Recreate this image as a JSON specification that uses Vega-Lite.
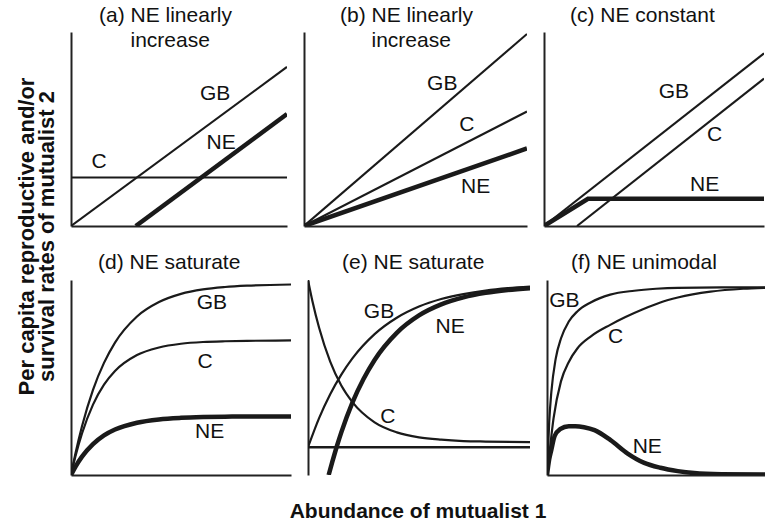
{
"$schema": "https://vega.github.io/schema/vega-lite/v6.json",
"padding": {"left": 15, "top": 5, "right": 0, "bottom": 0},
"background": "white",
"datasets": {
"curves": [
{"panel":"a","series":"GB","x":0,"y":0},{"panel":"a","series":"GB","x":1,"y":0.82},
{"panel":"a","series":"NE","x":0.30,"y":0},{"panel":"a","series":"NE","x":1,"y":0.577},
{"panel":"a","series":"C","x":0,"y":0.25},{"panel":"a","series":"C","x":1,"y":0.25},
{"panel":"b","series":"GB","x":0,"y":0},{"panel":"b","series":"GB","x":1,"y":0.99},
{"panel":"b","series":"C","x":0,"y":0},{"panel":"b","series":"C","x":1,"y":0.59},
{"panel":"b","series":"NE","x":0,"y":0},{"panel":"b","series":"NE","x":1,"y":0.40},
{"panel":"c","series":"GB","x":0,"y":0},{"panel":"c","series":"GB","x":1,"y":0.89},
{"panel":"c","series":"C","x":0.15,"y":0},{"panel":"c","series":"C","x":1,"y":0.76},
{"panel":"c","series":"NE","x":0,"y":0},{"panel":"c","series":"NE","x":0.2,"y":0.14},{"panel":"c","series":"NE","x":1,"y":0.14},
{"panel":"d","series":"GB","x":0,"y":0},{"panel":"d","series":"GB","x":0.02,"y":0.109},{"panel":"d","series":"GB","x":0.05,"y":0.25},{"panel":"d","series":"GB","x":0.1,"y":0.437},{"panel":"d","series":"GB","x":0.15,"y":0.575},{"panel":"d","series":"GB","x":0.2,"y":0.679},{"panel":"d","series":"GB","x":0.3,"y":0.813},{"panel":"d","series":"GB","x":0.4,"y":0.887},{"panel":"d","series":"GB","x":0.5,"y":0.929},{"panel":"d","series":"GB","x":0.6,"y":0.952},{"panel":"d","series":"GB","x":0.7,"y":0.964},{"panel":"d","series":"GB","x":0.8,"y":0.971},{"panel":"d","series":"GB","x":1,"y":0.977},
{"panel":"d","series":"C","x":0,"y":0},{"panel":"d","series":"C","x":0.02,"y":0.095},{"panel":"d","series":"C","x":0.05,"y":0.213},{"panel":"d","series":"C","x":0.1,"y":0.361},{"panel":"d","series":"C","x":0.15,"y":0.463},{"panel":"d","series":"C","x":0.2,"y":0.533},{"panel":"d","series":"C","x":0.3,"y":0.615},{"panel":"d","series":"C","x":0.4,"y":0.654},{"panel":"d","series":"C","x":0.5,"y":0.673},{"panel":"d","series":"C","x":0.6,"y":0.682},{"panel":"d","series":"C","x":0.7,"y":0.686},{"panel":"d","series":"C","x":0.8,"y":0.688},{"panel":"d","series":"C","x":1,"y":0.69},
{"panel":"d","series":"NE","x":0,"y":0},{"panel":"d","series":"NE","x":0.02,"y":0.042},{"panel":"d","series":"NE","x":0.05,"y":0.094},{"panel":"d","series":"NE","x":0.1,"y":0.158},{"panel":"d","series":"NE","x":0.15,"y":0.203},{"panel":"d","series":"NE","x":0.2,"y":0.233},{"panel":"d","series":"NE","x":0.3,"y":0.268},{"panel":"d","series":"NE","x":0.4,"y":0.285},{"panel":"d","series":"NE","x":0.5,"y":0.293},{"panel":"d","series":"NE","x":0.6,"y":0.297},{"panel":"d","series":"NE","x":0.7,"y":0.299},{"panel":"d","series":"NE","x":0.8,"y":0.3},{"panel":"d","series":"NE","x":1,"y":0.3},
{"panel":"e","series":"GB","x":0,"y":0},{"panel":"e","series":"GB","x":0.05,"y":0.174},{"panel":"e","series":"GB","x":0.1,"y":0.317},{"panel":"e","series":"GB","x":0.15,"y":0.434},{"panel":"e","series":"GB","x":0.2,"y":0.531},{"panel":"e","series":"GB","x":0.3,"y":0.676},{"panel":"e","series":"GB","x":0.4,"y":0.774},{"panel":"e","series":"GB","x":0.5,"y":0.841},{"panel":"e","series":"GB","x":0.6,"y":0.886},{"panel":"e","series":"GB","x":0.7,"y":0.916},{"panel":"e","series":"GB","x":0.8,"y":0.937},{"panel":"e","series":"GB","x":0.9,"y":0.951},{"panel":"e","series":"GB","x":1,"y":0.96},
{"panel":"e","series":"C","x":0,"y":1},{"panel":"e","series":"C","x":0.02,"y":0.873},{"panel":"e","series":"C","x":0.05,"y":0.714},{"panel":"e","series":"C","x":0.1,"y":0.512},{"panel":"e","series":"C","x":0.15,"y":0.369},{"panel":"e","series":"C","x":0.2,"y":0.27},{"panel":"e","series":"C","x":0.3,"y":0.149},{"panel":"e","series":"C","x":0.4,"y":0.089},{"panel":"e","series":"C","x":0.5,"y":0.059},{"panel":"e","series":"C","x":0.6,"y":0.045},{"panel":"e","series":"C","x":0.7,"y":0.037},{"panel":"e","series":"C","x":0.8,"y":0.034},{"panel":"e","series":"C","x":1,"y":0.031},
{"panel":"e","series":"NE","x":0.093,"y":-0.166},{"panel":"e","series":"NE","x":0.11,"y":-0.085},{"panel":"e","series":"NE","x":0.13,"y":0.006},{"panel":"e","series":"NE","x":0.15,"y":0.089},{"panel":"e","series":"NE","x":0.2,"y":0.267},{"panel":"e","series":"NE","x":0.25,"y":0.408},{"panel":"e","series":"NE","x":0.3,"y":0.522},{"panel":"e","series":"NE","x":0.4,"y":0.684},{"panel":"e","series":"NE","x":0.5,"y":0.788},{"panel":"e","series":"NE","x":0.6,"y":0.854},{"panel":"e","series":"NE","x":0.7,"y":0.896},{"panel":"e","series":"NE","x":0.8,"y":0.923},{"panel":"e","series":"NE","x":0.9,"y":0.94},{"panel":"e","series":"NE","x":1,"y":0.951},
{"panel":"e","series":"zero","x":0,"y":0},{"panel":"e","series":"zero","x":1,"y":0},
{"panel":"f","series":"GB","x":0,"y":0},{"panel":"f","series":"GB","x":0.01,"y":0.27},{"panel":"f","series":"GB","x":0.02,"y":0.426},{"panel":"f","series":"GB","x":0.04,"y":0.597},{"panel":"f","series":"GB","x":0.064,"y":0.7},{"panel":"f","series":"GB","x":0.1,"y":0.787},{"panel":"f","series":"GB","x":0.14,"y":0.84},{"panel":"f","series":"GB","x":0.2,"y":0.885},{"panel":"f","series":"GB","x":0.29,"y":0.925},{"panel":"f","series":"GB","x":0.4,"y":0.945},{"panel":"f","series":"GB","x":0.5,"y":0.955},{"panel":"f","series":"GB","x":0.6,"y":0.96},{"panel":"f","series":"GB","x":0.8,"y":0.962},{"panel":"f","series":"GB","x":1,"y":0.962},
{"panel":"f","series":"C","x":0,"y":0},{"panel":"f","series":"C","x":0.01,"y":0.1},{"panel":"f","series":"C","x":0.03,"y":0.29},{"panel":"f","series":"C","x":0.064,"y":0.48},{"panel":"f","series":"C","x":0.1,"y":0.58},{"panel":"f","series":"C","x":0.14,"y":0.65},{"panel":"f","series":"C","x":0.2,"y":0.71},{"panel":"f","series":"C","x":0.29,"y":0.77},{"panel":"f","series":"C","x":0.36,"y":0.81},{"panel":"f","series":"C","x":0.44,"y":0.85},{"panel":"f","series":"C","x":0.52,"y":0.885},{"panel":"f","series":"C","x":0.6,"y":0.91},{"panel":"f","series":"C","x":0.75,"y":0.94},{"panel":"f","series":"C","x":0.9,"y":0.955},{"panel":"f","series":"C","x":1,"y":0.96},
{"panel":"f","series":"NE","x":0,"y":0},{"panel":"f","series":"NE","x":0.01,"y":0.08},{"panel":"f","series":"NE","x":0.02,"y":0.13},{"panel":"f","series":"NE","x":0.035,"y":0.2},{"panel":"f","series":"NE","x":0.06,"y":0.235},{"panel":"f","series":"NE","x":0.1,"y":0.25},{"panel":"f","series":"NE","x":0.13,"y":0.25},{"panel":"f","series":"NE","x":0.17,"y":0.245},{"panel":"f","series":"NE","x":0.218,"y":0.23},{"panel":"f","series":"NE","x":0.29,"y":0.18},{"panel":"f","series":"NE","x":0.37,"y":0.11},{"panel":"f","series":"NE","x":0.446,"y":0.062},{"panel":"f","series":"NE","x":0.52,"y":0.037},{"panel":"f","series":"NE","x":0.6,"y":0.02},{"panel":"f","series":"NE","x":0.675,"y":0.01},{"panel":"f","series":"NE","x":0.8,"y":0.004},{"panel":"f","series":"NE","x":1,"y":0.002}
],
"labels": [
{"panel":"a","label":"GB","x":0.667,"y":0.68},{"panel":"a","label":"NE","x":0.695,"y":0.43},{"panel":"a","label":"C","x":0.13,"y":0.33},
{"panel":"b","label":"GB","x":0.62,"y":0.73},{"panel":"b","label":"C","x":0.73,"y":0.52},{"panel":"b","label":"NE","x":0.77,"y":0.20},
{"panel":"c","label":"GB","x":0.59,"y":0.69},{"panel":"c","label":"C","x":0.775,"y":0.47},{"panel":"c","label":"NE","x":0.73,"y":0.21},
{"panel":"d","label":"GB","x":0.64,"y":0.88},{"panel":"d","label":"C","x":0.61,"y":0.58},{"panel":"d","label":"NE","x":0.63,"y":0.22},
{"panel":"e","label":"GB","x":0.32,"y":0.81},{"panel":"e","label":"NE","x":0.64,"y":0.72},{"panel":"e","label":"C","x":0.36,"y":0.18},
{"panel":"f","label":"GB","x":0.08,"y":0.89},{"panel":"f","label":"C","x":0.315,"y":0.71},{"panel":"f","label":"NE","x":0.46,"y":0.145}
]
},
"title": {"text": ["Per capita reproductive and/or", "survival rates of mutualist 2"], "orient": "left", "anchor": "middle", "fontSize": 22, "fontWeight": "bold", "lineHeight": 20, "offset": 12, "dx": 27, "font": "Liberation Sans", "color": "#111"},
"vconcat": [
{
"title": {"text": "Abundance of mutualist 1", "orient": "bottom", "anchor": "middle", "fontSize": 21, "fontWeight": "bold", "offset": 26, "font": "Liberation Sans", "color": "#111"},
"spacing": 26,
"vconcat": [
{"spacing": 17, "hconcat": [
{"width": 216, "height": 194,
 "title": {"text": ["(a) NE linearly", "\u200b\u2003\u2002increase"], "dx": 28, "offset": -19},
 "encoding": {
  "x": {"field": "x", "type": "quantitative", "title": null, "scale": {"domain": [0, 1], "nice": false}},
  "y": {"field": "y", "type": "quantitative", "title": null, "scale": {"domain": [0, 1], "nice": false}}},
 "layer": [
  {"data": {"name": "curves"}, "transform": [{"filter": "datum.panel == 'a' && datum.series != 'NE'"}],
   "mark": {"type": "line", "color": "#1a1a1a", "clip": true, "strokeWidth": 2.1},
   "encoding": {"detail": {"field": "series"}}},
  {"data": {"name": "curves"}, "transform": [{"filter": "datum.panel == 'a' && datum.series == 'NE'"}],
   "mark": {"type": "line", "color": "#1a1a1a", "clip": true, "strokeWidth": 4.5},
   "encoding": {}},
  {"data": {"name": "labels"}, "transform": [{"filter": "datum.panel == 'a'"}],
   "mark": {"type": "text", "fontSize": 21, "font": "Liberation Sans", "color": "#111"},
   "encoding": {"text": {"field": "label"}}}
 ]},
{"width": 223, "height": 194,
 "title": {"text": ["(b) NE linearly", "\u200b\u2003\u2002increase"], "dx": 36, "offset": -19},
 "encoding": {
  "x": {"field": "x", "type": "quantitative", "title": null, "scale": {"domain": [0, 1], "nice": false}},
  "y": {"field": "y", "type": "quantitative", "title": null, "scale": {"domain": [0, 1], "nice": false}}},
 "layer": [
  {"data": {"name": "curves"}, "transform": [{"filter": "datum.panel == 'b' && datum.series != 'NE'"}],
   "mark": {"type": "line", "color": "#1a1a1a", "clip": true, "strokeWidth": 2.1},
   "encoding": {"detail": {"field": "series"}}},
  {"data": {"name": "curves"}, "transform": [{"filter": "datum.panel == 'b' && datum.series == 'NE'"}],
   "mark": {"type": "line", "color": "#1a1a1a", "clip": true, "strokeWidth": 4.5},
   "encoding": {}},
  {"data": {"name": "labels"}, "transform": [{"filter": "datum.panel == 'b'"}],
   "mark": {"type": "text", "fontSize": 21, "font": "Liberation Sans", "color": "#111"},
   "encoding": {"text": {"field": "label"}}}
 ]},
{"width": 220, "height": 194,
 "title": {"text": "(c) NE constant", "dx": 26, "offset": 6},
 "encoding": {
  "x": {"field": "x", "type": "quantitative", "title": null, "scale": {"domain": [0, 1], "nice": false}},
  "y": {"field": "y", "type": "quantitative", "title": null, "scale": {"domain": [0, 1], "nice": false}}},
 "layer": [
  {"data": {"name": "curves"}, "transform": [{"filter": "datum.panel == 'c' && datum.series != 'NE'"}],
   "mark": {"type": "line", "color": "#1a1a1a", "clip": true, "strokeWidth": 2.1},
   "encoding": {"detail": {"field": "series"}}},
  {"data": {"name": "curves"}, "transform": [{"filter": "datum.panel == 'c' && datum.series == 'NE'"}],
   "mark": {"type": "line", "color": "#1a1a1a", "clip": true, "strokeWidth": 4.5},
   "encoding": {}},
  {"data": {"name": "labels"}, "transform": [{"filter": "datum.panel == 'c'"}],
   "mark": {"type": "text", "fontSize": 21, "font": "Liberation Sans", "color": "#111"},
   "encoding": {"text": {"field": "label"}}}
 ]}
]},
{"spacing": 17, "hconcat": [
{"width": 220, "height": 195,
 "title": {"text": "(d) NE saturate", "dx": 27, "offset": 7},
 "encoding": {
  "x": {"field": "x", "type": "quantitative", "title": null, "scale": {"domain": [0, 1], "nice": false}},
  "y": {"field": "y", "type": "quantitative", "title": null, "scale": {"domain": [0, 1], "nice": false}}},
 "layer": [
  {"data": {"name": "curves"}, "transform": [{"filter": "datum.panel == 'd' && datum.series != 'NE'"}],
   "mark": {"type": "line", "color": "#1a1a1a", "clip": true, "strokeWidth": 2.2, "interpolate": "monotone"},
   "encoding": {"detail": {"field": "series"}}},
  {"data": {"name": "curves"}, "transform": [{"filter": "datum.panel == 'd' && datum.series == 'NE'"}],
   "mark": {"type": "line", "color": "#1a1a1a", "clip": true, "strokeWidth": 4.5, "interpolate": "monotone"},
   "encoding": {}},
  {"data": {"name": "labels"}, "transform": [{"filter": "datum.panel == 'd'"}],
   "mark": {"type": "text", "fontSize": 21, "font": "Liberation Sans", "color": "#111"},
   "encoding": {"text": {"field": "label"}}}
 ]},
{"width": 222, "height": 195,
 "title": {"text": "(e) NE saturate", "dx": 34, "offset": 7},
 "encoding": {
  "x": {"field": "x", "type": "quantitative", "title": null, "axis": null, "scale": {"domain": [0, 1], "nice": false}},
  "y": {"field": "y", "type": "quantitative", "title": null, "scale": {"domain": [-0.166, 1], "nice": false, "zero": false}}},
 "layer": [
  {"data": {"name": "curves"}, "transform": [{"filter": "datum.panel == 'e' && datum.series != 'NE' && datum.series != 'zero'"}],
   "mark": {"type": "line", "color": "#1a1a1a", "clip": true, "strokeWidth": 2.2, "interpolate": "monotone"},
   "encoding": {"detail": {"field": "series"}}},
  {"data": {"name": "curves"}, "transform": [{"filter": "datum.panel == 'e' && datum.series == 'zero'"}],
   "mark": {"type": "line", "color": "#1a1a1a", "clip": true, "strokeWidth": 2.6},
   "encoding": {}},
  {"data": {"name": "curves"}, "transform": [{"filter": "datum.panel == 'e' && datum.series == 'NE'"}],
   "mark": {"type": "line", "color": "#1a1a1a", "clip": true, "strokeWidth": 4.5, "interpolate": "monotone"},
   "encoding": {}},
  {"data": {"name": "labels"}, "transform": [{"filter": "datum.panel == 'e'"}],
   "mark": {"type": "text", "fontSize": 21, "font": "Liberation Sans", "color": "#111"},
   "encoding": {"text": {"field": "label"}}}
 ]},
{"width": 218, "height": 195,
 "title": {"text": "(f) NE unimodal", "dx": 24, "offset": 7},
 "encoding": {
  "x": {"field": "x", "type": "quantitative", "title": null, "scale": {"domain": [0, 1], "nice": false}},
  "y": {"field": "y", "type": "quantitative", "title": null, "scale": {"domain": [0, 1], "nice": false}}},
 "layer": [
  {"data": {"name": "curves"}, "transform": [{"filter": "datum.panel == 'f' && datum.series != 'NE'"}],
   "mark": {"type": "line", "color": "#1a1a1a", "clip": true, "strokeWidth": 2.2, "interpolate": "monotone"},
   "encoding": {"detail": {"field": "series"}}},
  {"data": {"name": "curves"}, "transform": [{"filter": "datum.panel == 'f' && datum.series == 'NE'"}],
   "mark": {"type": "line", "color": "#1a1a1a", "clip": true, "strokeWidth": 4.5, "interpolate": "monotone"},
   "encoding": {}},
  {"data": {"name": "labels"}, "transform": [{"filter": "datum.panel == 'f'"}],
   "mark": {"type": "text", "fontSize": 21, "font": "Liberation Sans", "color": "#111"},
   "encoding": {"text": {"field": "label"}}}
 ]}
]}
]
}
],
"config": {
 "font": "Liberation Sans",
 "view": {"stroke": null},
 "axis": {"labels": false, "ticks": false, "grid": false, "domainColor": "#222", "domainWidth": 2},
 "title": {"font": "Liberation Sans", "fontSize": 21, "fontWeight": "normal", "color": "#111", "anchor": "start", "lineHeight": 25}
}
}
